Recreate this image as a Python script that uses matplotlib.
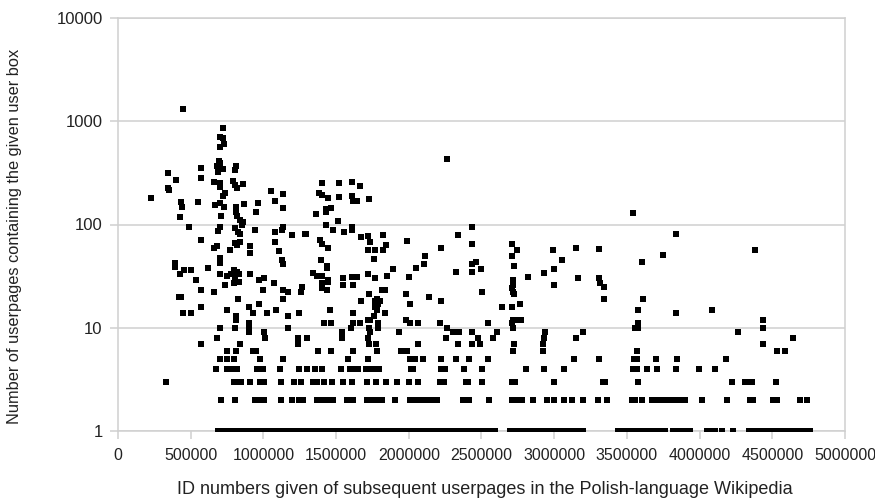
import matplotlib
matplotlib.use("Agg")
import matplotlib.pyplot as plt
from matplotlib.ticker import FixedLocator, FixedFormatter

plt.rcParams['font.family'] = ['Liberation Sans', 'DejaVu Sans']

# ---- data (user-page IDs in thousands, grouped by count) ----
ids_count1 = [690, 720, 750, 770, 790, 820, 850, 885, 908, 940, 977,
              990, 1020, 1050, 1080, 1110, 1140, 1170, 1200, 1230, 1260, 1290, 1320,
              1350, 1380, 1410, 1440, 1470, 1503, 1515, 1545, 1575, 1605, 1635, 1665,
              1695, 1721, 1744, 1775, 1805, 1835, 1858, 1870, 1900, 1930, 1962,
              1997, 2031, 2054, 2085, 2115, 2145, 2175, 2205, 2235, 2265, 2295, 2320,
              2340, 2352, 2386, 2409, 2440, 2470, 2500, 2530, 2560, 2590,
              2696, 2725, 2755, 2785, 2815, 2845, 2870, 2890, 2902, 2925, 2937, 2966,
              2982, 3005, 3028, 3060, 3090, 3131, 3166, 3200,
              3440, 3470, 3500, 3530, 3560, 3590, 3620, 3650, 3680, 3704, 3739, 3762,
              3814, 3842, 3865, 3895, 3934, 4048, 4083, 4106, 4151, 4227,
              4342, 4372, 4402, 4432, 4462, 4492, 4522, 4553, 4576, 4605, 4633,
              4660, 4690, 4720, 4759]
ids_count2 = [708, 805, 942, 965, 1004, 1118, 1200, 1247, 1270, 1366, 1389, 1424,
              1458, 1480, 1573, 1595, 1618, 1710, 1733, 1756, 1790, 1813, 1905, 2008,
              2031, 2054, 2077, 2100, 2123, 2146, 2168, 2192, 2370, 2416, 2552,
              2708, 2724, 2753, 2781, 2852, 2948, 2999, 3067, 3120, 3196, 3303, 3361,
              3533, 3556, 3602, 3671, 3705, 3739, 3785, 3819, 3854, 3877, 3900,
              4014, 4186, 4346, 4369, 4506, 4530, 4690, 4740]
ids_count3 = [330, 798, 816, 844, 908, 977, 1004, 1118, 1210, 1257, 1343, 1366,
              1416, 1473, 1549, 1607, 1710, 1774, 1841, 1916, 2003, 2065, 2214, 2242,
              2393, 2409, 2501, 2707, 2730, 2999, 3333, 3349, 3578,
              4220, 4312, 4335, 4358, 4525]
ids_count4 = [674, 747, 770, 798, 820, 954, 995, 1114, 1247, 1298, 1354, 1405,
              1531, 1595, 1623, 1652, 1705, 1733, 1761, 1795, 2015, 2031, 2219, 2248,
              2379, 2501, 2806, 2932, 3067, 3539, 3567, 3636, 3705, 3835, 3996, 4106]
ids_count5 = [700, 752, 800, 977, 1137, 1579, 1717, 2008, 2042, 2100, 2221, 2322,
              2416, 2546, 3136, 3310, 3548, 3567, 3697, 3842, 4179]
ids_count6 = [752, 810, 930, 949, 1374, 1465, 1614, 1783, 1946, 1990,
              2720, 2925, 3567, 4530, 4587]

ids_more = [445, 724, 700, 724, 700, 727, 695, 700, 680, 724, 690, 810, 805, 571,
            346, 397, 571, 662, 700, 700, 789, 805, 816, 862, 346, 353, 225, 431,
            438, 548, 724, 736, 670, 700, 727, 866, 961, 1052, 1137, 1080, 1137,
            947, 810, 812, 816, 839, 862, 851, 706, 426, 488, 700, 690, 805, 828,
            839, 942, 1080, 1126, 1137, 1195, 1293, 571, 662, 683, 805, 816, 839,
            770, 908, 908, 1080, 1109, 700, 700, 392, 392, 1126, 1133,
            426, 454, 500, 617, 536, 700, 752, 775, 798, 820, 832, 805, 832, 798,
            736, 908, 972, 1004, 1075, 1000, 1137, 1171, 1267, 1259, 569, 662,
            420, 430, 827, 1137, 569, 449, 502, 752, 903, 926, 972, 1027, 1085,
            810, 810, 1166, 1245, 903, 903, 903, 700, 805, 1004, 1011, 1166, 1240,
            1240, 1298, 679, 569, 839,
            2260, 1401, 1520, 1611, 1664, 1382, 1401, 1446, 1522, 1611, 1618, 1646,
            1726, 1362, 1428, 1428, 1462, 1511, 1428, 1481, 1554, 1611, 1611, 1286,
            1671, 1717, 1820, 1389, 1401, 1446, 1733, 1717, 1767, 1843, 1820, 1985,
            1761, 1394, 1435, 1435, 2111, 2219, 2341, 2437, 2437, 2460, 2433, 2494,
            2437, 2328, 2104, 2047, 1893, 1343, 1366, 1405, 1446, 1549, 1611, 1646,
            1717, 1767, 1852, 2001,
            1405, 1442, 1405, 1439, 1545, 1618, 1814, 1836, 1671, 1726, 1767, 1783,
            1786, 1802, 1767, 1783, 1761, 1836, 1733, 1721, 1978, 2008, 2141, 2219,
            2501, 1458, 1614, 1418, 1465, 1614, 1602, 1664, 1726, 1733, 1721, 1790,
            1790, 1542, 1542, 1934, 1978, 2008, 2065, 2215, 2260, 2306, 2347, 2437,
            2253, 2340, 2433, 2478, 2490, 2542, 2580, 2604, 2065, 1726, 1772,
            3544, 3838, 2708, 2746, 2708, 2724, 2994, 3056, 2999, 2932, 3150, 3310,
            3606, 3750, 2818, 3162, 3310, 2718,
            2720, 2708, 2720, 2724, 2708, 2714, 2745, 2775, 2708, 2714, 2643, 2765,
            2999, 3315, 3342, 3342, 3612, 3578, 3838, 3574, 3556, 3574, 2724, 2937,
            2930, 2925, 3150, 3196,
            4381, 4083, 4438, 4438, 4434, 4266, 4640]
counts_more = [1300, 866, 710, 683, 566, 598, 412, 392, 369, 345, 325, 369, 335, 355,
               313, 270, 280, 260, 250, 232, 266, 240, 227, 245, 227, 215, 179, 166,
               149, 166, 189, 200, 155, 160, 148, 158, 160, 211, 196, 170, 144,
               133, 149, 133, 121, 111, 106, 98, 121, 119, 95, 95, 87, 92, 85,
               81, 88, 85, 89, 94, 79, 81, 71, 59, 62, 66, 63, 68,
               56, 62, 53, 68, 55, 47, 42, 42, 39, 45, 41,
               33, 36, 36, 38, 29, 33, 32, 33, 36, 35, 33, 30, 28, 27,
               26, 33, 29, 30, 27, 23, 23, 22, 25, 22, 23, 22,
               20, 20, 19, 19, 16, 14, 14, 15, 16, 14, 17, 14, 15,
               13, 12, 13, 14, 11, 10, 9, 10, 10, 9, 8, 10, 8,
               7, 8, 8, 7, 7,
               431, 251, 251, 260, 237, 203, 195, 181, 185, 189, 170, 170,
               177, 126, 133, 141, 145, 108, 98, 88, 84, 95, 89, 81,
               76, 77, 79, 71, 65, 59, 68, 56, 57, 63, 57, 69,
               46, 45, 40, 38, 50, 59, 80, 95, 65, 43, 41, 37,
               35, 35, 41, 38, 37, 34, 32, 32, 29, 30, 31, 31,
               33, 30, 32, 31,
               27, 28, 24, 23, 26, 26, 23, 23, 18, 21, 18, 19,
               17, 18, 16, 15, 13, 14, 12, 12, 21, 17, 20, 18,
               22, 15, 14, 11, 11, 11, 10, 11, 10, 9, 8, 11,
               10, 9, 8, 9, 12, 11, 11, 11, 10, 9, 9, 9,
               8, 7, 7, 8, 7, 11, 8, 9, 7, 7, 7,
               130, 81, 65, 57, 49, 40, 56, 45, 37, 34, 59, 58,
               43, 51, 31, 30, 30, 29,
               26, 24, 22, 21, 16, 12, 12, 12, 11, 10, 16, 17,
               26, 27, 25, 19, 19, 15, 14, 11, 10, 10, 7, 9,
               8, 7, 8, 9,
               56, 15, 12, 10, 7, 9, 8]

x_ticks = [0, 500000, 1000000, 1500000, 2000000, 2500000, 3000000, 3500000,
           4000000, 4500000, 5000000]
y_ticks = [1, 10, 100, 1000, 10000]
x_title = "ID numbers given of subsequent userpages in the Polish-language Wikipedia"
y_title = "Number of userpages containing the given user box"

# ---- assemble ----
xs, ys = [], []
for c, group in [(1, ids_count1), (2, ids_count2), (3, ids_count3),
                 (4, ids_count4), (5, ids_count5), (6, ids_count6)]:
    xs += [v * 1000 for v in group]
    ys += [c] * len(group)
xs += [v * 1000 for v in ids_more]
ys += counts_more

W, H = 875, 500
fig = plt.figure(figsize=(W / 100, H / 100), dpi=100)
ax = fig.add_axes([118 / W, 1 - 431 / H, (845 - 118) / W, (431 - 18) / H])

grid_c = '#d0d0d0'
ax.set_yscale('log')
ax.set_xlim(0, 5000000)
ax.set_ylim(1, 10000)
for v in y_ticks:
    ax.axhline(v, color=grid_c, lw=1.1, zorder=0)
ax.scatter(xs, ys, marker='s', s=17, color='#000000', linewidths=0, zorder=3)

for s in ax.spines.values():
    s.set_color(grid_c)
    s.set_linewidth(1.1)

ax.xaxis.set_major_locator(FixedLocator(x_ticks))
ax.xaxis.set_major_formatter(FixedFormatter([str(v) for v in x_ticks]))
ax.yaxis.set_major_locator(FixedLocator(y_ticks))
ax.yaxis.set_major_formatter(FixedFormatter([str(v) for v in y_ticks]))
ax.yaxis.set_minor_locator(FixedLocator([]))
ax.tick_params(axis='both', which='major', length=6, width=1.1, color=grid_c,
               labelsize=11.5, labelcolor='#222222')
ax.tick_params(axis='x', pad=6)
ax.tick_params(axis='y', pad=5, labelsize=12)

fig.text(485 / W, 1 - 490 / H, x_title, ha='center', va='center',
         fontsize=13, color='#222222')
fig.text(15 / W, 1 - 236 / H, y_title, ha='center', va='center',
         rotation=90, fontsize=11.8, color='#222222')

fig.savefig('out.png', dpi=100)
